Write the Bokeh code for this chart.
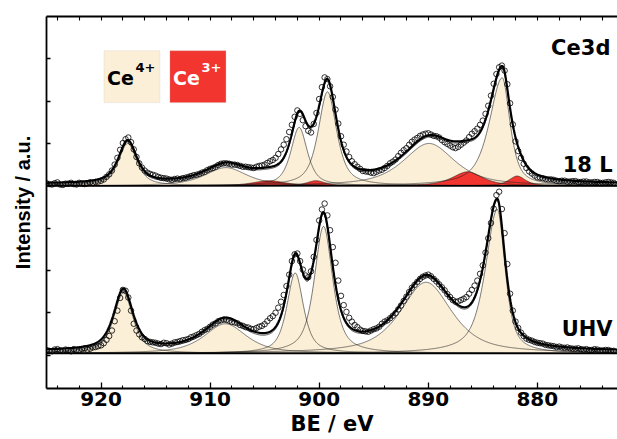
import numpy as np
from bokeh.plotting import figure
from bokeh.models import Range1d, LinearAxis, FixedTicker, Label, BoxAnnotation
from bokeh.embed import file_html
from bokeh.resources import INLINE

# ---------------- data ----------------
# measured binding energies: 925 eV down to 873 eV in 0.25 eV steps
be_first, be_step = 925.0, 0.25

# each row: N.00, N-0.25, N-0.50, N-0.75 eV
uhv_counts = [
    0.12, 0.10, 0.09, 0.13,   # 925
    0.14, 0.11, 0.10, 0.13,   # 924
    0.12, 0.09, 0.14, 0.12,   # 923
    0.11, 0.14, 0.16, 0.13,   # 922
    0.15, 0.18, 0.19, 0.21,   # 921
    0.23, 0.28, 0.36, 0.45,   # 920
    0.58, 0.80, 1.05, 1.35,   # 919
    1.54, 1.52, 1.36, 1.05,   # 918
    0.74, 0.58, 0.49, 0.42,   # 917
    0.38, 0.33, 0.31, 0.30,   # 916
    0.29, 0.27, 0.26, 0.29,   # 915
    0.28, 0.25, 0.27, 0.30,   # 914
    0.31, 0.33, 0.35, 0.36,   # 913
    0.38, 0.42, 0.44, 0.47,   # 912
    0.50, 0.55, 0.59, 0.62,   # 911
    0.67, 0.72, 0.75, 0.80,   # 910
    0.82, 0.84, 0.83, 0.81,   # 909
    0.78, 0.77, 0.75, 0.71,   # 908
    0.69, 0.66, 0.65, 0.62,   # 907
    0.61, 0.64, 0.67, 0.69,   # 906
    0.73, 0.80, 0.87, 0.92,   # 905
    1.00, 1.12, 1.26, 1.42,   # 904
    1.63, 1.90, 2.22, 2.38,   # 903
    2.40, 2.22, 2.02, 1.88,   # 902
    1.84, 1.98, 2.32, 2.72,   # 901
    3.18, 3.44, 3.58, 3.30,   # 900
    2.95, 2.55, 2.18, 1.76,   # 899
    1.40, 1.18, 1.02, 0.88,   # 898
    0.79, 0.71, 0.66, 0.60,   # 897
    0.57, 0.56, 0.55, 0.58,   # 896
    0.61, 0.63, 0.67, 0.74,   # 895
    0.79, 0.82, 0.87, 0.93,   # 894
    0.99, 1.08, 1.17, 1.28,   # 893
    1.38, 1.49, 1.59, 1.66,   # 892
    1.73, 1.80, 1.85, 1.88,   # 891
    1.90, 1.86, 1.80, 1.74,   # 890
    1.67, 1.60, 1.53, 1.44,   # 889
    1.37, 1.30, 1.26, 1.27,   # 888
    1.30, 1.33, 1.37, 1.45,   # 887
    1.54, 1.64, 1.76, 1.92,   # 886
    2.12, 2.42, 2.76, 3.12,   # 885
    3.46, 3.78, 3.86, 3.45,   # 884
    2.88, 2.15, 1.45, 1.05,   # 883
    0.79, 0.64, 0.53, 0.45,   # 882
    0.39, 0.36, 0.34, 0.31,   # 881
    0.29, 0.28, 0.27, 0.24,   # 880
    0.23, 0.22, 0.21, 0.19,   # 879
    0.20, 0.18, 0.17, 0.18,   # 878
    0.16, 0.15, 0.15, 0.16,   # 877
    0.14, 0.13, 0.14, 0.12,   # 876
    0.12, 0.14, 0.13, 0.11,   # 875
    0.11, 0.12, 0.12, 0.10,   # 874
    0.10]                     # 873

l18_counts = [
    0.06, 0.04, 0.03, 0.06,   # 925
    0.08, 0.03, 0.02, 0.05,   # 924
    0.05, 0.07, 0.04, 0.03,   # 923
    0.07, 0.05, 0.04, 0.06,   # 922
    0.08, 0.07, 0.09, 0.10,   # 921
    0.12, 0.15, 0.21, 0.27,   # 920
    0.36, 0.50, 0.66, 0.85,   # 919
    1.01, 1.10, 1.14, 1.03,   # 918
    0.86, 0.68, 0.53, 0.43,   # 917
    0.36, 0.31, 0.28, 0.26,   # 916
    0.24, 0.21, 0.19, 0.18,   # 915
    0.17, 0.15, 0.14, 0.16,   # 914
    0.17, 0.16, 0.18, 0.19,   # 913
    0.21, 0.23, 0.25, 0.26,   # 912
    0.28, 0.31, 0.33, 0.37,   # 911
    0.40, 0.42, 0.45, 0.49,   # 910
    0.52, 0.53, 0.53, 0.52,   # 909
    0.50, 0.50, 0.49, 0.47,   # 908
    0.45, 0.45, 0.44, 0.43,   # 907
    0.42, 0.45, 0.47, 0.48,   # 906
    0.50, 0.54, 0.58, 0.61,   # 905
    0.66, 0.75, 0.86, 0.97,   # 904
    1.10, 1.27, 1.44, 1.63,   # 903
    1.78, 1.70, 1.55, 1.41,   # 902
    1.30, 1.26, 1.46, 1.72,   # 901
    2.05, 2.33, 2.56, 2.52,   # 900
    2.35, 2.10, 1.80, 1.47,   # 899
    1.17, 0.97, 0.81, 0.68,   # 898
    0.58, 0.51, 0.45, 0.40,   # 897
    0.35, 0.34, 0.33, 0.31,   # 896
    0.30, 0.33, 0.36, 0.38,   # 895
    0.42, 0.47, 0.53, 0.57,   # 894
    0.62, 0.70, 0.78, 0.84,   # 893
    0.89, 0.97, 1.04, 1.09,   # 892
    1.13, 1.18, 1.21, 1.23,   # 891
    1.24, 1.21, 1.18, 1.17,   # 890
    1.14, 1.08, 1.03, 0.99,   # 889
    0.95, 0.91, 0.89, 0.92,   # 888
    0.97, 1.02, 1.07, 1.15,   # 887
    1.23, 1.29, 1.35, 1.44,   # 886
    1.54, 1.70, 1.89, 2.13,   # 885
    2.41, 2.64, 2.80, 2.84,   # 884
    2.72, 2.40, 1.95, 1.45,   # 883
    1.05, 0.82, 0.66, 0.52,   # 882
    0.42, 0.34, 0.29, 0.24,   # 881
    0.20, 0.19, 0.18, 0.16,   # 880
    0.15, 0.15, 0.14, 0.12,   # 879
    0.11, 0.12, 0.12, 0.10,   # 878
    0.10, 0.11, 0.11, 0.09,   # 877
    0.09, 0.10, 0.10, 0.08,   # 876
    0.08, 0.09, 0.09, 0.07,   # 875
    0.07, 0.08, 0.09, 0.08,   # 874
    0.07]                     # 873

uhv_base = 0.04      # vertical offset of the UHV fit components
l18_base = 4.0       # vertical offset of the 18 L spectrum

# fitted components (centre eV, height, width high-BE side, width low-BE side)
uhv_ce4_center = [883.67, 890.2, 899.6, 902.2, 908.6, 917.95]
uhv_ce4_height = [3.40, 1.68, 3.00, 1.90, 0.70, 1.43]
uhv_ce4_wl = [2.6, 5.6, 2.0, 1.8, 4.6, 2.1]
uhv_ce4_wr = [1.7, 5.6, 2.0, 1.8, 4.6, 2.1]
uhv_bg = [0.04, 0.05]

l18_ce4_center = [883.22, 889.93, 899.24, 901.84, 908.55, 917.56]
l18_ce4_height = [2.55, 1.00, 2.22, 1.38, 0.43, 1.00]
l18_ce4_wl = [2.8, 5.6, 2.0, 1.8, 4.6, 2.0]
l18_ce4_wr = [1.7, 5.6, 2.0, 1.8, 4.6, 2.0]
l18_ce3_center = [881.85, 886.4, 900.3, 904.6]
l18_ce3_height = [0.23, 0.33, 0.12, 0.12]
l18_ce3_width = [1.8, 3.3, 2.0, 3.5]
l18_bg = [0.04, 0.04]

lorentz_fraction = 0.7

x_ticks = [920, 910, 900, 890, 880]
x_minor = [924, 922, 918, 916, 914, 912, 908, 906, 904, 902, 898, 896, 894,
           892, 888, 886, 884, 882, 878, 876, 874]
y_ticks = [0, 1, 2, 3, 4, 5, 6, 7]

CE4 = "#FCEFD7"
CE3 = "#F2362F"
FONT = "DejaVu Sans"

xf = np.linspace(872.6, 925.0, 1400)


def pvoigt(x, c, h, wl, wr, eta=lorentz_fraction):
    w = np.where(x >= c, wl, wr)
    r = ((x - c) / w) ** 2
    return h * (eta / (1 + 4 * r) + (1 - eta) * np.exp(-4 * np.log(2) * r))


def shirley(total, lo, hi):
    cum = np.cumsum(total)
    return lo + (hi - lo) * cum / cum[-1]


p = figure(width=617, height=439, x_range=Range1d(925, 872.65),
           y_range=Range1d(-0.79, 8.0), output_backend="svg",
           toolbar_location=None, min_border_left=46, min_border_right=0,
           min_border_top=16, min_border_bottom=51)
p.outline_line_color = None
p.xgrid.visible = False
p.ygrid.visible = False


def draw_spectrum(base, shift, counts, c4c, c4h, c4wl, c4wr, bg, c3c=(), c3h=(), c3w=()):
    counts = np.array(counts)
    be = be_first - be_step * np.arange(len(counts))
    comps4 = [pvoigt(xf, c, h, wl, wr) for c, h, wl, wr in zip(c4c, c4h, c4wl, c4wr)]
    comps3 = [pvoigt(xf, c, h, w, w) for c, h, w in zip(c3c, c3h, c3w)]
    total = sum(comps4) + (sum(comps3) if comps3 else 0)
    back = shirley(total, bg[0], bg[1])
    for cp in comps4:
        p.varea(x=xf, y1=np.full_like(xf, base), y2=base + cp, fill_color=CE4)
    for cp in comps3:
        p.varea(x=xf, y1=np.full_like(xf, base), y2=base + cp, fill_color=CE3)
    for cp in comps4 + comps3:
        p.line(xf, base + cp, line_color="#222222", line_width=0.6)
    p.line([925, 872.65], [base, base], line_color="black", line_width=1.6)
    p.line(xf, base + total, line_color="black", line_width=0.7)
    p.line(xf, base + total + back, line_color="black", line_width=2.2)
    p.scatter(be, shift + counts, marker="circle", size=5.5,
              fill_alpha=0, line_color="black", line_width=0.8)


# UHV counts are read directly on the plot scale; its fit sits on uhv_base
draw_spectrum(uhv_base, 0.0, uhv_counts, uhv_ce4_center, uhv_ce4_height,
              uhv_ce4_wl, uhv_ce4_wr, uhv_bg)
draw_spectrum(l18_base, l18_base, l18_counts, l18_ce4_center, l18_ce4_height, l18_ce4_wl,
              l18_ce4_wr, l18_bg, l18_ce3_center, l18_ce3_height, l18_ce3_width)

# ---- axes ----
xa = p.xaxis[0]
xa.ticker = FixedTicker(ticks=x_ticks, minor_ticks=x_minor)
xa.major_tick_in = 6
xa.major_tick_out = 0
xa.minor_tick_in = 3
xa.minor_tick_out = 0
xa.axis_line_width = 1.8
xa.major_tick_line_width = 1.3
xa.minor_tick_line_width = 1.1
xa.major_label_text_font = FONT
xa.major_label_text_font_style = "bold"
xa.major_label_text_font_size = "20px"
xa.major_label_text_color = "black"
xa.major_label_standoff = 3
xa.axis_label = "BE / eV"
xa.axis_label_text_font = FONT
xa.axis_label_text_font_style = "bold"
xa.axis_label_text_font_size = "21px"
xa.axis_label_text_color = "black"
xa.axis_label_standoff = 3

# top axis: ticks only (drawn as minor ticks so no labels exist)
top = LinearAxis(ticker=FixedTicker(ticks=[], minor_ticks=x_ticks + x_minor))
top.minor_tick_in = 4
top.minor_tick_out = 0
top.major_tick_in = 0
top.major_tick_out = 0
top.axis_line_width = 1.8
top.minor_tick_line_width = 1.1
top.major_label_standoff = 0
p.add_layout(top, "above")

ya = p.yaxis[0]
ya.ticker = FixedTicker(ticks=[], minor_ticks=y_ticks)
ya.minor_tick_in = 4
ya.minor_tick_out = 0
ya.major_tick_in = 0
ya.major_tick_out = 0
ya.minor_tick_line_width = 1.3
ya.axis_line_width = 1.8
ya.major_label_standoff = 0
ya.axis_label = "Intensity / a.u."
ya.axis_label_text_font = "Liberation Sans"
ya.axis_label_text_font_style = "bold"
ya.axis_label_text_font_size = "20px"
ya.axis_label_text_color = "black"
ya.axis_label_standoff = 13

# ---- labels ----
def lab(x, y, text, size, color="black", align="right"):
    p.add_layout(Label(x=x, y=y, text=text, text_font=FONT, text_font_style="bold",
                       text_font_size=size, text_color=color, text_align=align,
                       text_baseline="alphabetic"))

lab(873.3, 7.26, "Ce3d", "21px")
lab(873.1, 4.49, "18 L", "21px")
lab(873.1, 0.62, "UHV", "21px")

# legend boxes
p.add_layout(BoxAnnotation(left=919.73, right=914.6, bottom=5.965, top=7.19,
                           fill_color=CE4, fill_alpha=1, line_color="#D5CBBB", line_width=1))
p.add_layout(BoxAnnotation(left=913.68, right=908.55, bottom=5.965, top=7.19,
                           fill_color=CE3, fill_alpha=1, line_color="#C8A0A0", line_width=1))
lab(919.45, 6.54, "Ce", "19px", align="left")
lab(916.85, 6.80, "4+", "13px", align="left")
lab(913.40, 6.54, "Ce", "19px", color="white", align="left")
lab(910.80, 6.80, "3+", "13px", color="white", align="left")

open("out.html", "w").write(file_html(p, INLINE))
